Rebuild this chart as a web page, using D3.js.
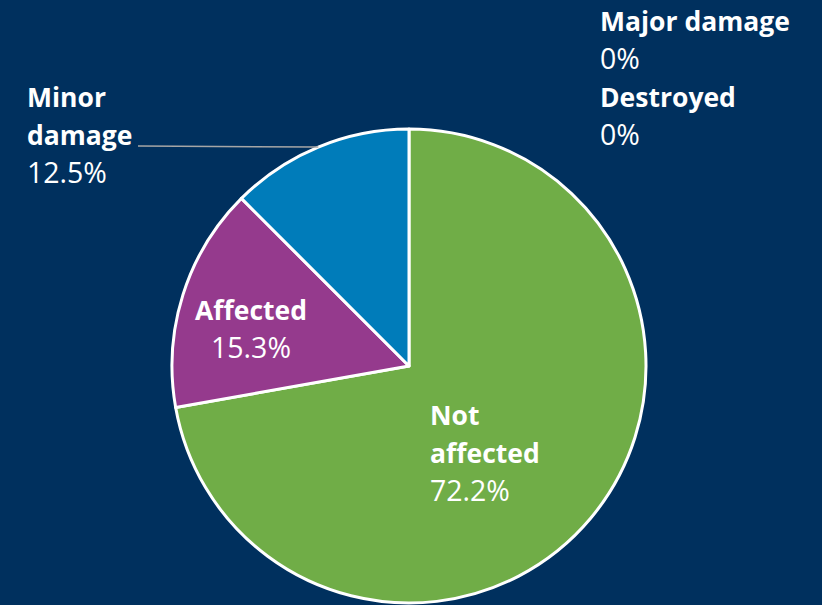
<!DOCTYPE html>
<html>
<head>
<meta charset="utf-8">
<script src="https://cdn.jsdelivr.net/npm/d3@7"></script>
<style>
  html, body { margin: 0; padding: 0; background: #00305E; }
  svg { display: block; }
  text { font-family: "Open Sans", "Noto Sans", sans-serif; fill: #ffffff; }
</style>
</head>
<body>
<svg id="chart" width="822" height="605"></svg>
<script>
// ---- data ----
const categories = ["Not affected", "Affected", "Minor damage", "Major damage", "Destroyed"];
const values = [72.2, 15.3, 12.5, 0, 0];
const valueLabels = ["72.2%", "15.3%", "12.5%", "0%", "0%"];
const colors = ["#70AD47", "#953A8D", "#007CBA", "#A5A5A5", "#FFC000"];

// ---- layout ----
const W = 822, H = 605;
const cx = 409, cy = 366, R = 237;
const boldSize = 26.5, regSize = 28.5, lineH = 38;
// label anchor: x, baseline y of first line, text-anchor, lines of category name
const labelLayout = {
  "Not affected": { x: 430, y: 425, anchor: "start", lines: ["Not", "affected"] },
  "Affected":     { x: 251, y: 320, anchor: "middle", lines: ["Affected"] },
  "Minor damage": { x: 27,  y: 107, anchor: "start", lines: ["Minor", "damage"], leader: true },
  "Major damage": { x: 600, y: 31,  anchor: "start", lines: ["Major damage"] },
  "Destroyed":    { x: 600, y: 107, anchor: "start", lines: ["Destroyed"] }
};

const svg = d3.select("#chart");
svg.append("rect").attr("width", W).attr("height", H).attr("fill", "#00305E");

const data = categories.map((c, i) => ({ cat: c, value: values[i], label: valueLabels[i], color: colors[i] }));

const pie = d3.pie().sort(null).value(d => d.value);
const arcs = pie(data);
const arc = d3.arc().innerRadius(0).outerRadius(R);
const edgeArc = d3.arc().innerRadius(R).outerRadius(R);

const g = svg.append("g").attr("transform", `translate(${cx},${cy})`);
g.selectAll("path.slice")
  .data(arcs.filter(a => a.data.value > 0))
  .join("path")
  .attr("class", "slice")
  .attr("d", arc)
  .attr("fill", d => d.data.color)
  .attr("stroke", "#ffffff")
  .attr("stroke-width", 3)
  .attr("stroke-linejoin", "round");

// labels
arcs.forEach(a => {
  const L = labelLayout[a.data.cat];
  const t = svg.append("text")
    .attr("x", L.x).attr("y", L.y)
    .attr("text-anchor", L.anchor);
  L.lines.forEach((ln, i) => {
    t.append("tspan").attr("x", L.x).attr("y", L.y + i * lineH)
      .attr("font-weight", "bold").attr("font-size", boldSize).text(ln);
  });
  t.append("tspan").attr("x", L.x).attr("y", L.y + L.lines.length * lineH)
    .attr("font-weight", "normal").attr("font-size", regSize).text(a.data.label);

  if (L.leader) {
    const nameSpan = t.selectAll("tspan").nodes()[L.lines.length - 1];
    const bb = nameSpan.getBBox();
    const [ex, ey] = edgeArc.centroid(a);
    svg.append("line")
      .attr("x1", Math.max(bb.x + bb.width + 4, 138)).attr("y1", L.y + (L.lines.length - 1) * lineH + 1)
      .attr("x2", cx + ex).attr("y2", cy + ey)
      .attr("stroke", "#A6A6A6").attr("stroke-width", 1.5);
  }
});
</script>
</body>
</html>
